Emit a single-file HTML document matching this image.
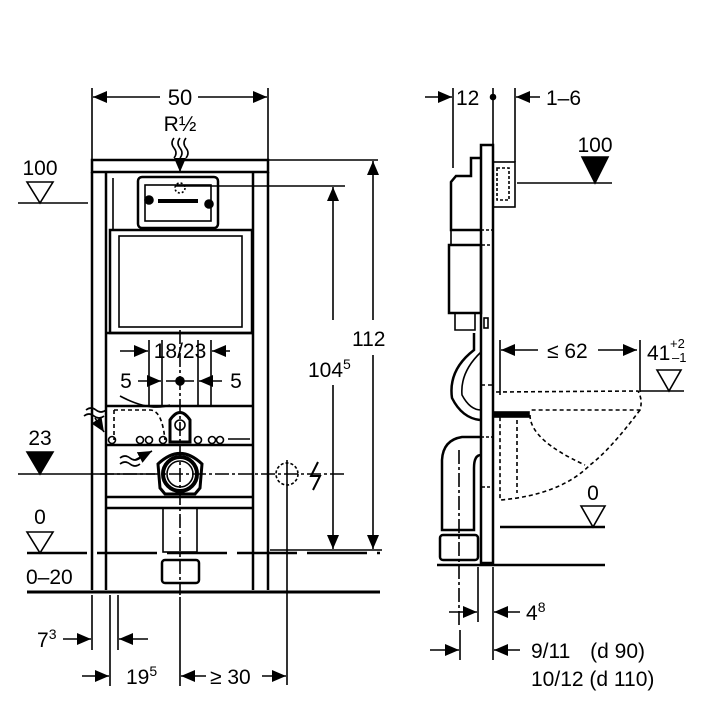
<!DOCTYPE html>
<html><head><meta charset="utf-8"><style>
html,body{margin:0;padding:0;background:#fff}
svg{display:block}
text{font-family:"Liberation Sans",sans-serif;fill:#000}
</style></head><body>
<svg width="720" height="720" viewBox="0 0 720 720" xmlns="http://www.w3.org/2000/svg">
<defs>
<marker id="a" viewBox="0 0 14 12" refX="14" refY="6" markerWidth="14" markerHeight="12" markerUnits="userSpaceOnUse" orient="auto"><path d="M0,0 L14,6 L0,12 Z" fill="#000"/></marker>
</defs>
<g stroke="#000" fill="none" stroke-width="1.6">
<line x1="92" y1="88" x2="92" y2="160"/><line x1="268" y1="88" x2="268" y2="160"/>
<line x1="160" y1="97" x2="93" y2="97" marker-end="url(#a)"/>
<line x1="198" y1="97" x2="267" y2="97" marker-end="url(#a)"/>
<path d="M174,138 q-4,5 0,10 q4,5 0,10" /><path d="M180,138 q-4,5 0,10 q4,5 0,10"/><path d="M186,138 q-4,5 0,10 q4,5 0,10"/>
<line x1="180" y1="158" x2="180" y2="172" marker-end="url(#a)"/>
<rect x="92" y="160" width="176" height="12" stroke-width="2.5"/>
<line x1="92" y1="172" x2="92" y2="590" stroke-width="2.5"/><line x1="106" y1="172" x2="106" y2="590" stroke-width="2.5"/>
<line x1="113" y1="178" x2="113" y2="230"/>
<line x1="253" y1="172" x2="253" y2="590" stroke-width="2.5"/><line x1="268" y1="172" x2="268" y2="590" stroke-width="2.5"/>
<rect x="138" y="177" width="80" height="51" rx="4" stroke-width="2.5"/>
<rect x="145" y="185" width="66" height="36"/>
<circle cx="180" cy="188" r="5" stroke-dasharray="2,2"/>
<circle cx="149" cy="200" r="4" fill="#000"/><circle cx="209" cy="204" r="4" fill="#000"/>
<rect x="158" y="199" width="40" height="4" fill="#000" stroke="none"/>
<rect x="110" y="230" width="142" height="103" stroke-width="2.5"/>
<rect x="119" y="236" width="123" height="91"/>
<line x1="106" y1="333" x2="253" y2="333" stroke-width="2.5"/>
<line x1="106" y1="406" x2="253" y2="406" stroke-width="2.5"/>
<line x1="106" y1="445" x2="253" y2="445" stroke-width="2.5"/>
<line x1="106" y1="497" x2="253" y2="497" stroke-width="2.5"/>
<line x1="106" y1="508" x2="253" y2="508" stroke-width="2.5"/>
<line x1="149" y1="340" x2="149" y2="406"/><line x1="162" y1="340" x2="162" y2="406"/>
<line x1="198" y1="340" x2="198" y2="406"/><line x1="211" y1="340" x2="211" y2="406"/>
<path d="M114,410 L150,410 Q162,410 165,440" stroke-dasharray="4,3"/>
<line x1="114" y1="410" x2="114" y2="440" stroke-dasharray="4,3"/>
<path d="M120,396 Q150,412 170,405" />
<circle cx="112" cy="440" r="3.5"/><circle cx="140" cy="440" r="3.5"/><circle cx="149" cy="440" r="3.5"/><circle cx="163" cy="440" r="3.5"/>
<circle cx="198" cy="440" r="3.5"/><circle cx="212" cy="440" r="3.5"/><circle cx="220" cy="440" r="3.5"/><line x1="228" y1="439" x2="250" y2="439"/>
<path d="M170,442 L170,420 Q180,405 190,420 L190,442 Z" stroke-width="3"/>
<circle cx="180" cy="425" r="5"/>
<path d="M86,410 q5,-4 10,0 q5,4 10,0"/><path d="M84,416 q5,-4 10,0 q5,4 10,0"/>
<line x1="95" y1="418" x2="104" y2="432" marker-end="url(#a)"/>
<path d="M120,458 q5,-4 10,0 q5,4 10,0"/><path d="M120,464 q5,-4 10,0 q5,4 10,0"/>
<line x1="135" y1="460" x2="152" y2="451" marker-end="url(#a)"/>
<path d="M160,488 L158,464 Q180,443 202,464 L200,488 L195,494 L165,494 Z" stroke-width="3"/>
<circle cx="180" cy="474" r="17" stroke-width="4"/><circle cx="180" cy="474" r="13"/>
<rect x="163" y="508" width="34" height="44"/>
<rect x="162" y="560" width="37" height="23" rx="3" stroke-width="2.5"/>
<line x1="180" y1="330" x2="180" y2="595" stroke-dasharray="14,3,3,3"/>
<line x1="100" y1="474" x2="345" y2="474" stroke-dasharray="14,3,3,3"/>
<circle cx="287" cy="474" r="11" stroke-dasharray="3,2"/>
<line x1="287" y1="460" x2="287" y2="685"/>
<path d="M318,462 L311,476 L320,476 L313,490" stroke-width="2"/>
<line x1="120" y1="351" x2="148" y2="351" marker-end="url(#a)"/>
<line x1="230" y1="351" x2="212" y2="351" marker-end="url(#a)"/>
<line x1="138" y1="381" x2="161" y2="381" marker-end="url(#a)"/>
<line x1="222" y1="381" x2="199" y2="381" marker-end="url(#a)"/>
<line x1="166" y1="381" x2="194" y2="381"/><circle cx="180" cy="381" r="4" fill="#000"/>
<line x1="18" y1="203" x2="88" y2="203"/>
<path d="M27,182 L53,182 L40,203 Z"/>
<path d="M27,452 L53,452 L40,474 Z" fill="#000"/>
<line x1="18" y1="474" x2="155" y2="474"/>
<path d="M27,532 L53,532 L40,553 Z"/>
<line x1="27" y1="553" x2="380" y2="553" stroke-width="2.5" stroke-dasharray="60,10"/>
<line x1="27" y1="592" x2="380" y2="592" stroke-width="3"/>
<line x1="268" y1="160" x2="378" y2="160"/>
<line x1="175" y1="186" x2="345" y2="186"/>
<line x1="270" y1="550" x2="382" y2="550"/>
<line x1="333" y1="320" x2="333" y2="187" marker-end="url(#a)"/>
<line x1="333" y1="385" x2="333" y2="549" marker-end="url(#a)"/>
<line x1="373" y1="320" x2="373" y2="161" marker-end="url(#a)"/>
<line x1="373" y1="355" x2="373" y2="549" marker-end="url(#a)"/>
<line x1="92" y1="595" x2="92" y2="650"/><line x1="118" y1="595" x2="118" y2="650"/>
<line x1="110" y1="595" x2="110" y2="686"/><line x1="180" y1="597" x2="180" y2="686"/>
<line x1="63" y1="639" x2="91" y2="639" marker-end="url(#a)"/>
<line x1="148" y1="639" x2="119" y2="639" marker-end="url(#a)"/>
<line x1="82" y1="676" x2="109" y2="676" marker-end="url(#a)"/>
<line x1="206" y1="676" x2="181" y2="676" marker-end="url(#a)"/>
<line x1="262" y1="676" x2="286" y2="676" marker-end="url(#a)"/>

<line x1="453" y1="88" x2="453" y2="168"/><line x1="493" y1="88" x2="493" y2="145"/><line x1="515" y1="88" x2="515" y2="162"/>
<line x1="425" y1="97" x2="452" y2="97" marker-end="url(#a)"/>
<line x1="540" y1="97" x2="516" y2="97" marker-end="url(#a)"/>
<circle cx="493" cy="97" r="2.5" fill="#000"/>
<rect x="481" y="145" width="12" height="418" stroke-width="2.5"/>
<rect x="493" y="162" width="22" height="45"/>
<rect x="497" y="168" width="12" height="32" stroke-dasharray="3,2"/>
<line x1="517" y1="183" x2="612" y2="183"/>
<path d="M582,157 L608,157 L595,183 Z" fill="#000"/>
<path d="M481,158 L471,158 L471,176 L456,176 L451,182 L451,230 L481,230" stroke-width="2.5"/>
<rect x="451" y="230" width="30" height="15"/>
<rect x="481" y="230" width="12" height="15" stroke-dasharray="3,2"/>
<rect x="449" y="245" width="32" height="68" stroke-width="2.5"/>
<path d="M455,313 L455,330 L475,330 L475,313" />
<path d="M474,333 L474,350 Q448,370 452,398 Q462,418 480,420" stroke-width="2.5"/>
<path d="M481,352 Q460,372 462,395 Q470,410 481,410"/>
<rect x="484" y="318" width="4" height="10"/>
<line x1="500" y1="340" x2="500" y2="395"/>
<line x1="538" y1="350" x2="501" y2="350" marker-end="url(#a)"/>
<line x1="598" y1="350" x2="637" y2="350" marker-end="url(#a)"/>
<line x1="640" y1="340" x2="640" y2="392"/>
<line x1="640" y1="391" x2="684" y2="391"/>
<path d="M657,370 L681,370 L669,391 Z"/>
<g stroke-dasharray="4,3">
<path d="M496,392 L638,391 Q643,400 640,410 L530,410"/>
<path d="M640,410 Q610,450 590,465 Q560,495 500,500 L500,412"/>
<path d="M530,415 Q530,440 585,465"/>
<line x1="517" y1="420" x2="517" y2="493"/>
<line x1="481" y1="385" x2="493" y2="385"/>
</g>
<rect x="493" y="412" width="36" height="5" fill="#000"/>
<path d="M481,437 L462,437 Q443,440 442,460 L442,530 L474,530 L474,468 Q474,455 481,455" stroke-width="2.5"/>
<rect x="440" y="535" width="38" height="25" rx="3" stroke-width="2.5"/>
<rect x="481" y="437" width="12" height="50" stroke-dasharray="3,2"/>
<line x1="459" y1="450" x2="459" y2="625" stroke-dasharray="14,3,3,3"/>
<line x1="500" y1="527" x2="605" y2="527" stroke-width="2.5"/>
<path d="M581,506 L605,506 L593,527 Z"/>
<line x1="437" y1="565" x2="605" y2="565" stroke-width="2.5"/>
<line x1="478" y1="567" x2="478" y2="622"/><line x1="493" y1="567" x2="493" y2="660"/><line x1="460" y1="630" x2="460" y2="660"/>
<line x1="449" y1="612" x2="477" y2="612" marker-end="url(#a)"/>
<line x1="520" y1="612" x2="494" y2="612" marker-end="url(#a)"/>
<line x1="430" y1="650" x2="459" y2="650" marker-end="url(#a)"/>
<line x1="520" y1="650" x2="494" y2="650" marker-end="url(#a)"/>
</g>
<g font-size="21">
<text x="180" y="105" text-anchor="middle" font-size="22">50</text>
<text x="180" y="131" text-anchor="middle">R½</text>
<text x="40" y="175" text-anchor="middle">100</text>
<text x="40" y="445" text-anchor="middle">23</text>
<text x="40" y="524" text-anchor="middle">0</text>
<text x="26" y="584">0–20</text>
<text x="180" y="358" text-anchor="middle">18/23</text>
<text x="126" y="388" text-anchor="middle">5</text>
<text x="236" y="388" text-anchor="middle">5</text>
<text x="308" y="377">104<tspan font-size="14" dy="-8">5</tspan></text>
<text x="352" y="346">112</text>
<text x="37" y="647">7<tspan font-size="14" dy="-8">3</tspan></text>
<text x="126" y="684">19<tspan font-size="14" dy="-8">5</tspan></text>
<text x="210" y="684">≥ 30</text>
<text x="456" y="105">12</text>
<text x="546" y="105">1–6</text>
<text x="595" y="152" text-anchor="middle">100</text>
<text x="547" y="358">≤ 62</text>
<text x="647" y="360">41</text>
<text x="670" y="348" font-size="13">+2</text>
<text x="672" y="362" font-size="13">–1</text>
<text x="593" y="500" text-anchor="middle">0</text>
<text x="526" y="620">4<tspan font-size="14" dy="-8">8</tspan></text>
<text x="531" y="658">9/11 <tspan dx="14">(d 90)</tspan></text>
<text x="531" y="686">10/12 (d 110)</text>
</g>
</svg>
</body></html>
